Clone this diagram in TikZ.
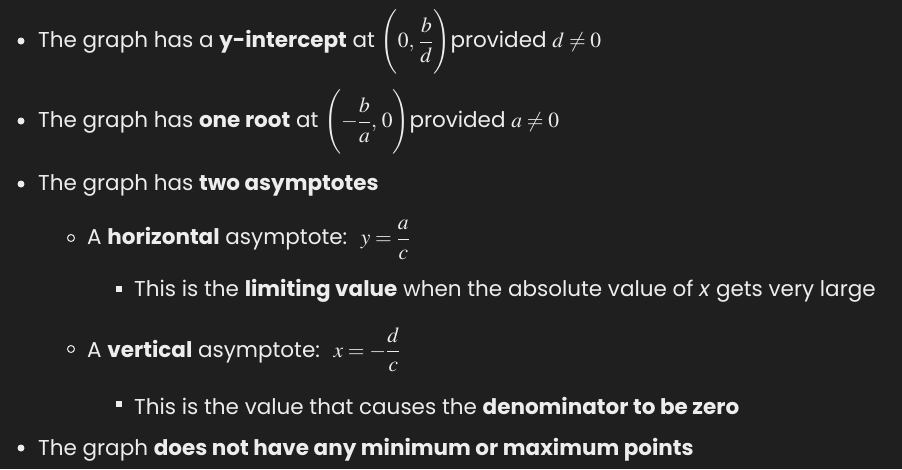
\documentclass[tikz,border=0pt]{standalone}
\usepackage{mathptmx}
\usepackage{fontspec}
\setmainfont{Poppins}
\definecolor{bg}{HTML}{1F1F1F}
\definecolor{fg}{HTML}{EDEDED}
\begin{document}
\begin{tikzpicture}[x=1pt,y=-1pt,
  txt/.style={anchor=west,inner sep=0pt,text=fg,font=\fontsize{21.5}{24}\selectfont},
  b1/.style={circle,fill=fg,inner sep=0pt,minimum size=7pt},
  b2/.style={circle,draw=fg,line width=1pt,inner sep=0pt,minimum size=7pt},
  b3/.style={rectangle,fill=fg,inner sep=0pt,minimum size=6pt}]
\fill[bg] (0,0) rectangle (902,469);
\useasboundingbox (0,0) rectangle (902,469);
\node[b1] (d1) at (21,41) {};
\node[txt] (t1) at (38,42) {The graph has a \textbf{y-intercept} at $\displaystyle\Biggl(0,\,\frac{b}{d}\Biggr)$provided $d\neq0$};
\node[b1] (d2) at (21,121) {};
\node[txt] (t2) at (38,122) {The graph has \textbf{one root} at $\displaystyle\Biggl(-\frac{b}{a},\,0\Biggr)$provided $a\neq0$};
\node[b1] (d3) at (21,184) {};
\node[txt] (t3) at (38,185) {The graph has \textbf{two asymptotes}};
\node[b2] (d4) at (71,238) {};
\node[txt] (t4) at (87,240) {A \textbf{horizontal} asymptote:\; $\displaystyle y=\frac{a}{c}$};
\node[b3] (d5) at (119,289) {};
\node[txt] (t5) at (134,291) {This is the \textbf{limiting value} when the absolute value of \textit{x} gets very large};
\node[b2] (d6) at (71,349) {};
\node[txt] (t6) at (87,350) {A \textbf{vertical} asymptote:\; $\displaystyle x=-\frac{d}{c}$};
\node[b3] (d7) at (119,404) {};
\node[txt] (t7) at (134,406) {This is the value that causes the \textbf{denominator to be zero}};
\node[b1] (d8) at (21,448) {};
\node[txt] (t8) at (38,450) {The graph \textbf{does not have any minimum or maximum points}};
\end{tikzpicture}
\end{document}
